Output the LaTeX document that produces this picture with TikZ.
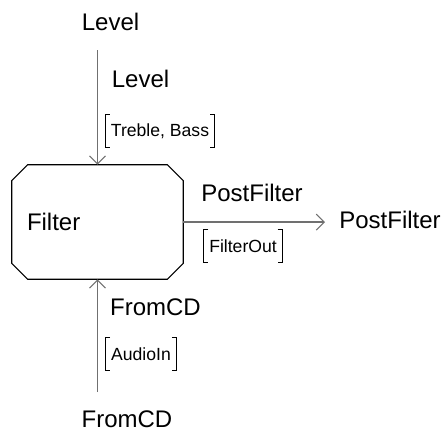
\documentclass[tikz,border=0pt]{standalone}
\usepackage{fontspec}
\setmainfont{Liberation Sans}
\usetikzlibrary{arrows.meta}
\definecolor{wiregray}{RGB}{112,112,112}
\tikzset{
    block/.style = {rectangle,
        minimum height=85.5pt,
        text width=105.75pt, inner xsep=11.25pt,
        align=left, font=\fontsize{18}{21}\selectfont},
    outline/.style = {draw, line width=0.8pt, line join=miter},
    port/.style = {anchor=base, inner sep=0pt, font=\fontsize{18}{21}\selectfont},
    sig/.style = {inner xsep=4pt, inner ysep=0pt, minimum height=24pt,
        font=\fontsize{13.2}{15}\selectfont},
    brk/.style = {draw, line width=0.6pt},
    arrow/.style = {draw=wiregray, line width=0.8pt,
        -{Straight Barb[length=6pt,width=12pt,line width=0.8pt]}}
}
\newcommand{\sigbrackets}[1]{%
    \draw[brk] ([xshift=3.5pt]#1.north west) -| (#1.south west) -- ++(3.5pt,0)
               ([xshift=-3.5pt]#1.north east) -| (#1.south east) -- ++(-3.5pt,0);}
\begin{document}
\begin{tikzpicture}[x=0.75pt,y=-0.75pt]
    \useasboundingbox (0,0) rectangle (443,430);
    \node[block] (filter) at (97.5,222) {Filter};
    \draw[outline] ([xshift=12pt]filter.north west) -- ([xshift=-12pt]filter.north east)
        -- ([yshift=-12pt]filter.north east) -- ([yshift=12pt]filter.south east)
        -- ([xshift=-12pt]filter.south east) -- ([xshift=12pt]filter.south west)
        -- ([yshift=12pt]filter.south west) -- ([yshift=-12pt]filter.north west) -- cycle;
    % input Level
    \node[port] (lvlsrc) at (110.5,30) {Level};
    \coordinate (lvlin) at (97.5,50);
    \node[port] (lvlname) at (140.5,87) {Level};
    \node[sig] (lvltype) at (160,131) {Treble, Bass};
    \sigbrackets{lvltype}
    \draw[arrow] (lvlin) -- (filter.north);
    % output PostFilter
    \coordinate (postout) at (325,222);
    \node[port] (postname) at (252,201) {PostFilter};
    \node[port] (postdst) at (390,228) {PostFilter};
    \node[sig] (posttype) at (243,246) {FilterOut};
    \sigbrackets{posttype}
    \draw[arrow] (filter.east) -- (postout);
    % input FromCD
    \coordinate (cdin) at (97.5,392);
    \node[port] (cdname) at (155.5,315) {FromCD};
    \node[port] (cdsrc) at (127,427) {FromCD};
    \node[sig] (cdtype) at (141,354) {AudioIn};
    \sigbrackets{cdtype}
    \draw[arrow] (cdin) -- (filter.south);
\end{tikzpicture}
\end{document}
